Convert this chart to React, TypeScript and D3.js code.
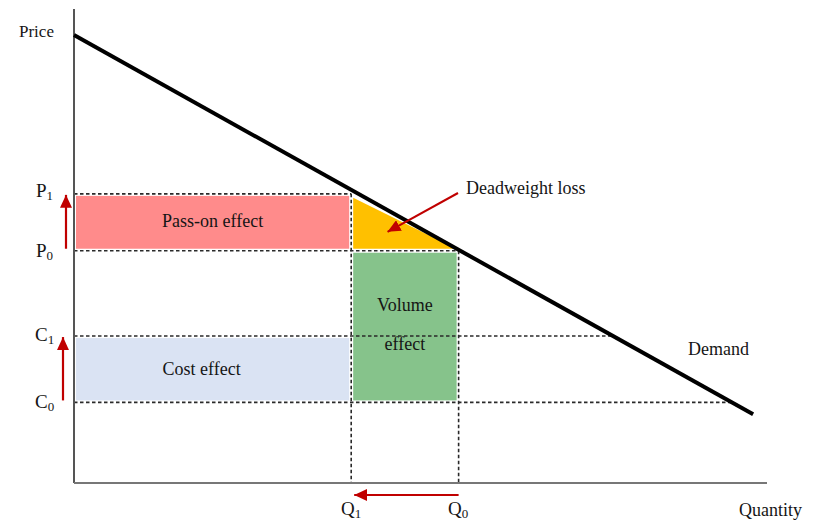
import React from 'react'
import * as d3 from 'd3'

// quantity / price levels of the diagram (arbitrary units 0-100)
const quantities = [40, 55.5] // Q1, Q0
const prices = [61, 49] // P1, P0
const costs = [31, 17] // C1, C0
const demandPoints: [number, number][] = [[0, 94.5], [98, 14.5]]
const axisLabels = ['Price', 'Quantity', 'Demand']
const areaLabels = ['Pass-on effect', 'Cost effect', 'Volume', 'effect', 'Deadweight loss']

const width = 817
const height = 520
const font = '"Liberation Serif", "Times New Roman", serif'
const red = '#C00000'
const ink = '#151515'

export default function App() {
    const x = d3.scaleLinear().domain([0, 100]).range([74, 767])
    const y = d3.scaleLinear().domain([0, 100]).range([483, 9])

    const [q1, q0] = quantities
    const [p1, p0] = prices
    const [c1, c0] = costs

    // demand: price as a function of quantity, and its inverse
    const slope = (demandPoints[1][1] - demandPoints[0][1]) / (demandPoints[1][0] - demandPoints[0][0])
    const demandP = (q: number) => demandPoints[0][1] + slope * q
    const demandQ = (p: number) => (p - demandPoints[0][1]) / slope

    const line = d3.line<[number, number]>().x(d => x(d[0])).y(d => y(d[1]))

    const inset = 2
    const rect = (qa: number, qb: number, pa: number, pb: number, fill: string) => (
        <rect x={x(qa) + inset} y={y(pb) + inset} width={x(qb) - x(qa) - inset * 2}
            height={y(pa) - y(pb) - inset * 2} fill={fill} />
    )

    const triTop = Math.min(p1, demandP(q1))
    const triangle: [number, number][] = [[q1, triTop], [q1, p0], [demandQ(p0), p0]]
    const triPx = triangle.map(d => [x(d[0]) + inset, y(d[1])])
    triPx[0][1] += inset * 2
    triPx[1][1] -= inset
    triPx[2][1] -= inset
    triPx[2][0] -= inset * 3
    const centroid = [d3.mean(triPx, d => d[0])!, d3.mean(triPx, d => d[1])!]

    const dashed: [number, number][][] = [
        [[0, p1], [q1, p1]],
        [[0, p0], [q0, p0]],
        [[0, c1], [demandQ(c1), c1]],
        [[0, c0], [demandQ(c0), c0]],
        [[q1, p1], [q1, 0]],
        [[q0, p0], [q0, 0]],
    ]

    const sub = (letter: string, idx: string, px: number, py: number) => (
        <text x={px} y={py} fontFamily={font} fontSize={19} fill={ink}>
            {letter}<tspan fontSize={13} dy={3}>{idx}</tspan>
        </text>
    )

    const label = (t: string, px: number, py: number, anchor = 'start', size = 18) => (
        <text x={px} y={py} textAnchor={anchor} fontFamily={font} fontSize={size} fill={ink}>{t}</text>
    )

    return (
        <svg width={width} height={height} style={{ position: 'absolute', left: 0, top: 0, background: '#fff' }}>
            <defs>
                <marker id="head" viewBox="0 0 13 12" refX="13" refY="6" markerWidth="13" markerHeight="12"
                    orient="auto-start-reverse" markerUnits="userSpaceOnUse">
                    <path d="M0,0 L13,6 L0,12 z" fill={red} />
                </marker>
            </defs>

            {/* coloured areas */}
            {rect(0, q1, p0, p1, '#FF8B8B')}
            {rect(0, q1, c0, c1, '#DAE3F3')}
            {rect(q1, q0, c0, p0, '#86C38B')}
            <path d={'M' + triPx.map(d => d.join(',')).join('L') + 'Z'} fill="#FFC000" />

            {/* dashed guides */}
            {dashed.map((d, i) => (
                <path key={i} d={line(d)!} stroke="#2a2a2a" strokeWidth={1.6} strokeDasharray="3.5,2.5" fill="none" />
            ))}

            {/* axes */}
            <line x1={x(0)} x2={x(0)} y1={y(100)} y2={y(0)} stroke="#555" strokeWidth={2} />
            <line x1={x(0)} x2={x(100)} y1={y(0)} y2={y(0)} stroke="#777" strokeWidth={2} />

            {/* demand curve */}
            <path d={line(demandPoints)!} stroke="#000" strokeWidth={4} fill="none" />

            {/* red arrows */}
            <line x1={66} x2={66} y1={y(p0) - 2} y2={y(p1) + 1} stroke={red} strokeWidth={2.2} markerEnd="url(#head)" />
            <line x1={63} x2={63} y1={y(c0) - 2} y2={y(c1) + 1} stroke={red} strokeWidth={2.2} markerEnd="url(#head)" />
            <line x1={x(q0)} x2={x(q1) + 3} y1={495} y2={495} stroke={red} strokeWidth={2.2} markerEnd="url(#head)" />
            <line x1={458} y1={193} x2={centroid[0]} y2={centroid[1]} stroke={red} strokeWidth={2} markerEnd="url(#head)" />

            {/* axis labels */}
            {label(axisLabels[0], 19, 37, 'start', 17)}
            {label(axisLabels[1], 739, 516)}
            {label(axisLabels[2], 688, 355)}
            {sub('P', '1', 36, 197)}
            {sub('P', '0', 36, 257)}
            {sub('C', '1', 35, 341)}
            {sub('C', '0', 35, 408)}
            {sub('Q', '1', 341, 515)}
            {sub('Q', '0', 448, 515)}

            {/* area labels */}
            {label(areaLabels[0], (x(0) + x(q1)) / 2, 227, 'middle')}
            {label(areaLabels[1], (x(0) + x(q1)) / 2 - 11, 375, 'middle')}
            {label(areaLabels[2], (x(q1) + x(q0)) / 2, 311, 'middle')}
            {label(areaLabels[3], (x(q1) + x(q0)) / 2, 350, 'middle')}
            {label(areaLabels[4], 466, 194)}
        </svg>
    )
}
